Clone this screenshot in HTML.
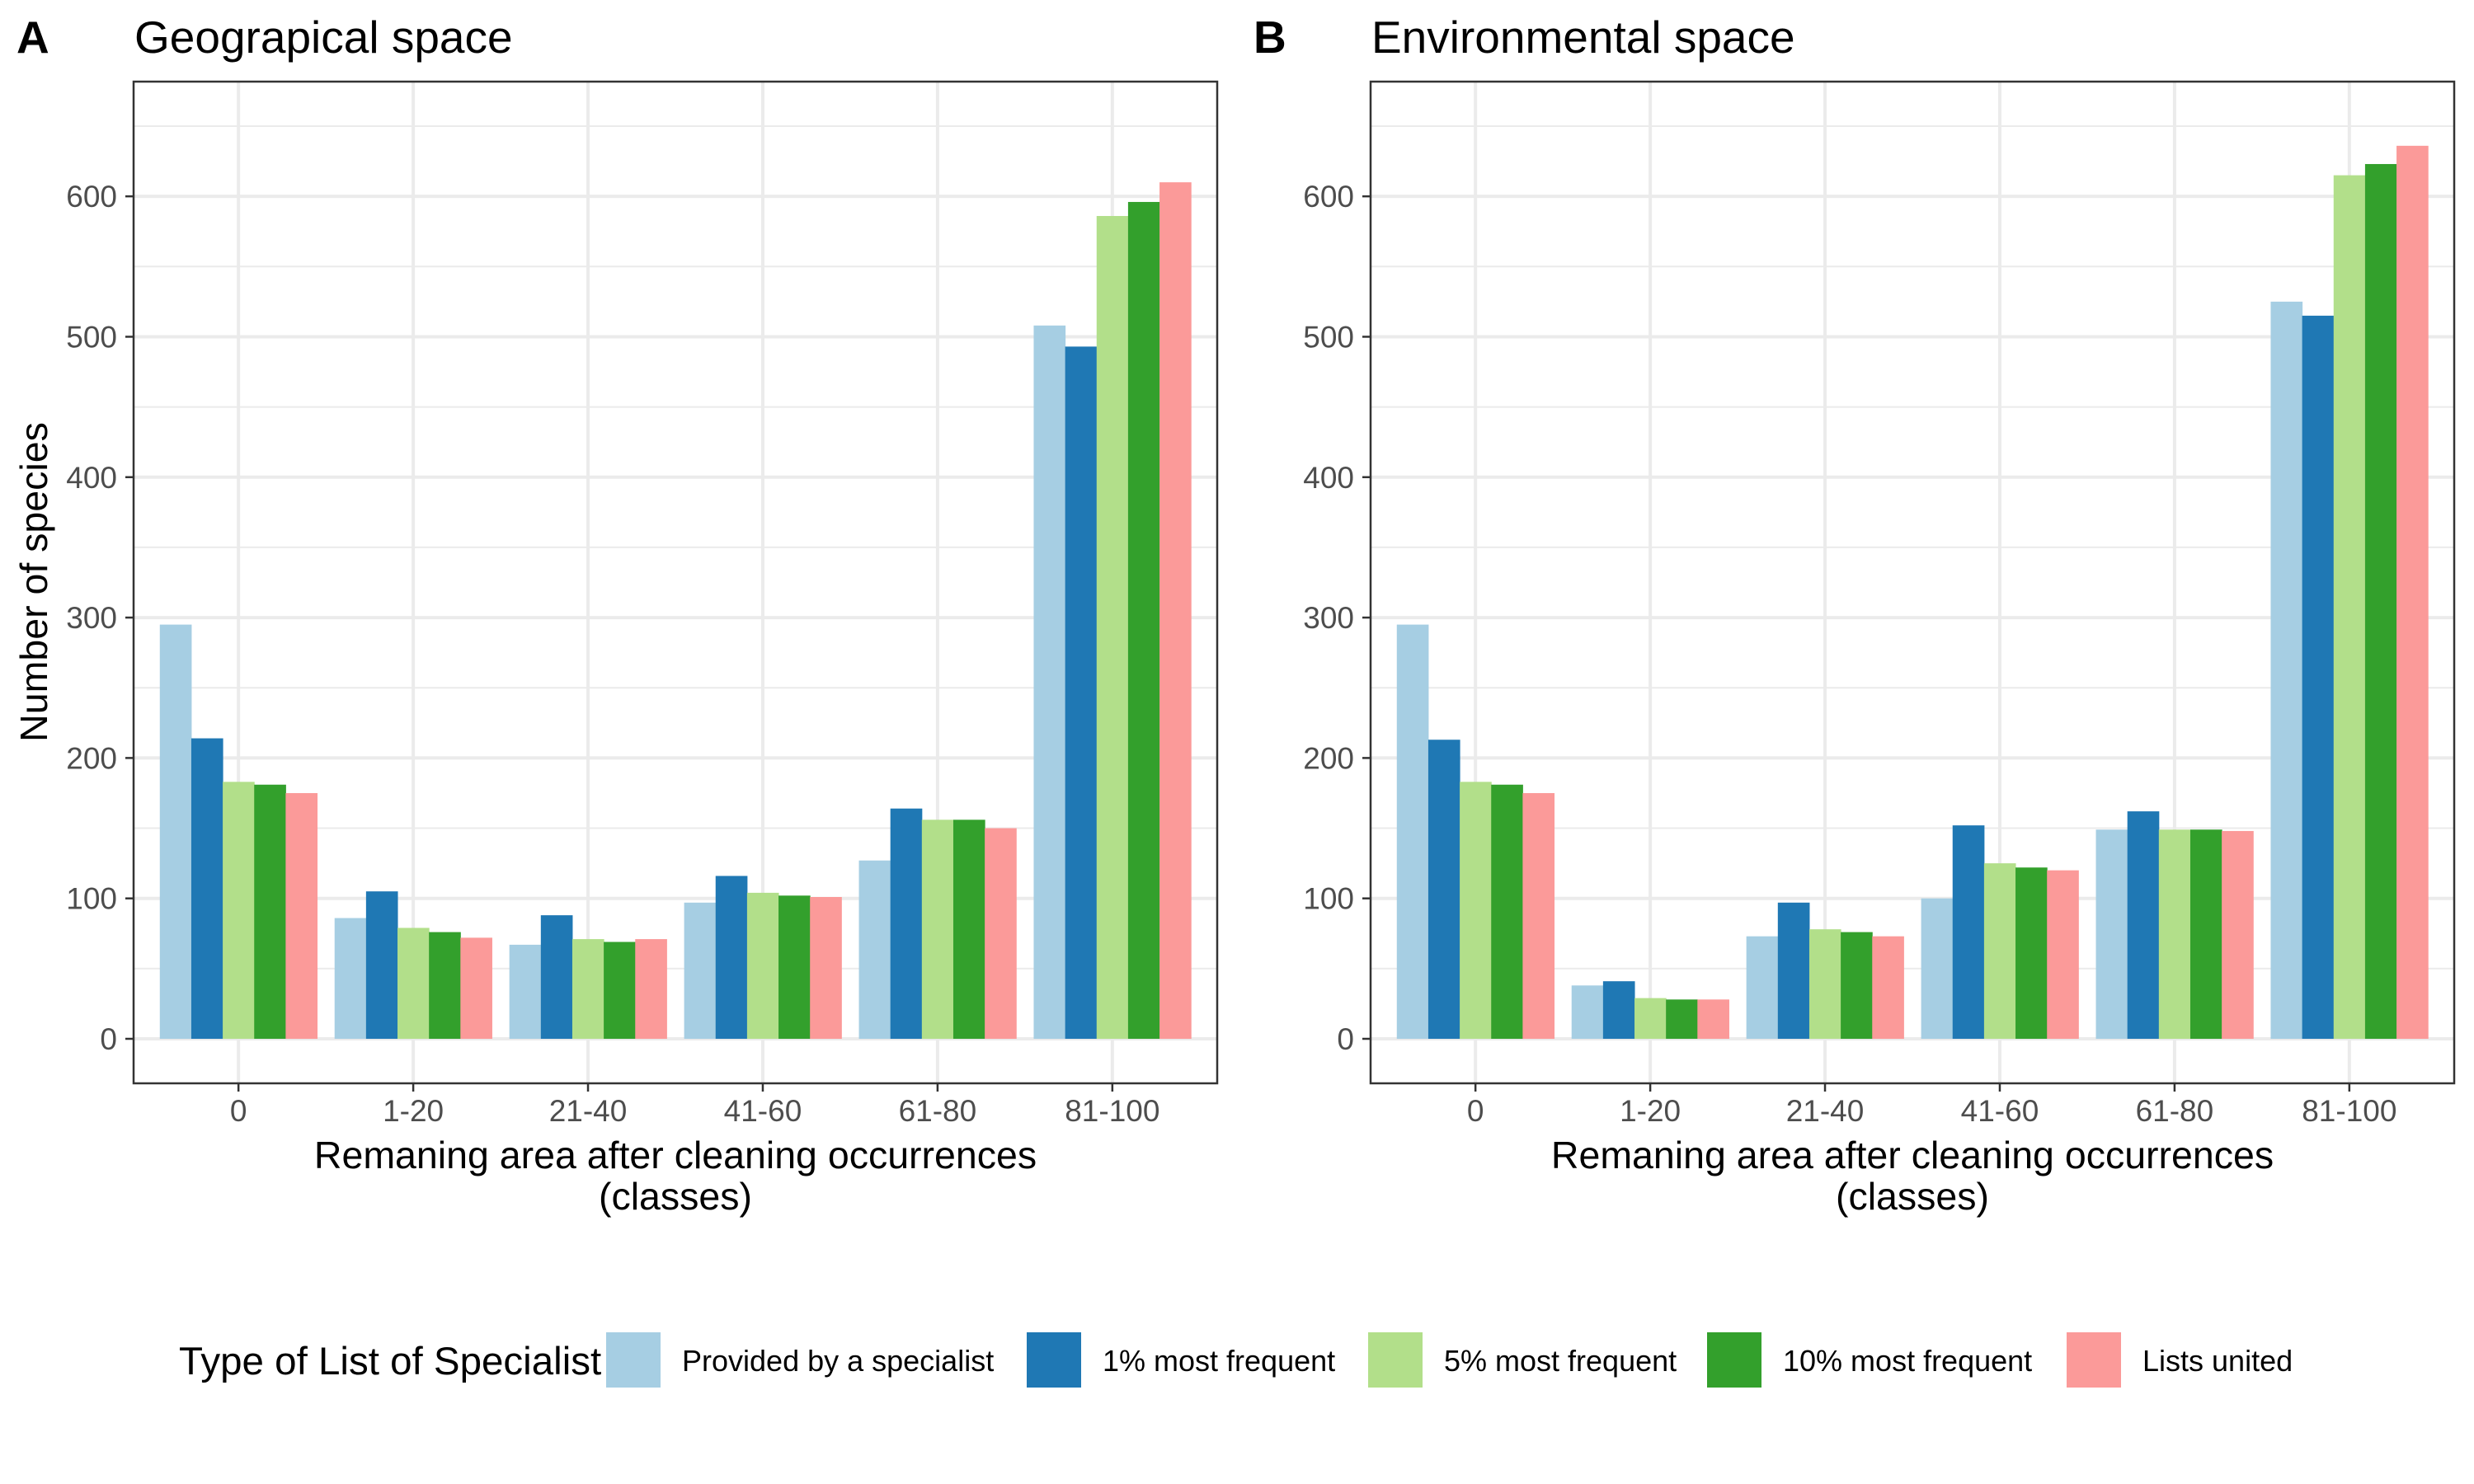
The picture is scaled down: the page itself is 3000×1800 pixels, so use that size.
<!DOCTYPE html>
<html><head><meta charset="utf-8"><style>
body{margin:0;background:#fff;}
svg{display:block;font-family:"Liberation Sans",Arial,sans-serif;}
</style></head><body>
<svg id="chart" width="3000" height="1800" viewBox="0 0 3000 1800" xmlns="http://www.w3.org/2000/svg"></svg>
<script>
const categories = ["0","1-20","21-40","41-60","61-80","81-100"];
const seriesNames = ["Provided by a specialist","1% most frequent","5% most frequent","10% most frequent","Lists united"];
const seriesColors = ["#A6CEE3","#1F78B4","#B2DF8A","#33A02C","#FB9A99"];
const yTicks = [0,100,200,300,400,500,600];
// Panel A values per series (across categories)
const geoSpecialist = [295,86,67,97,127,508];
const geo1pct = [214,105,88,116,164,493];
const geo5pct = [183,79,71,104,156,586];
const geo10pct = [181,76,69,102,156,596];
const geoUnited = [175,72,71,101,150,610];
// Panel B values
const envSpecialist = [295,38,73,100,149,525];
const env1pct = [213,41,97,152,162,515];
const env5pct = [183,29,78,125,149,615];
const env10pct = [181,28,76,122,149,623];
const envUnited = [175,28,73,120,148,636];

const NS="http://www.w3.org/2000/svg";
const svg=document.getElementById('chart');
function mk(tag,attrs,parent){const e=document.createElementNS(NS,tag);for(const k in attrs)e.setAttribute(k,attrs[k]);(parent||svg).appendChild(e);return e;}

const yMin=-31.7, yMax=681.7;
function drawPanel(offX,letter,title,series,pname){
  const g=mk('g',{});
  
  
  const L=offX+162,R=offX+1476,T=99,B=1314;
  const y=v=>B-(v-yMin)/(yMax-yMin)*(B-T);
  const step=(R-L)/(categories.length-1+1.2);
  const x=i=>L+step*(i+0.6);
  mk('rect',{x:L,y:T,width:R-L,height:B-T,fill:'#fff'},g);
  for(let v=50;v<=650;v+=100){const l=mk('line',{x1:L,x2:R,y1:y(v),y2:y(v),stroke:'#EBEBEB','stroke-width':2},g);
    }
  yTicks.forEach(v=>{const l=mk('line',{x1:L,x2:R,y1:y(v),y2:y(v),stroke:'#EBEBEB','stroke-width':4},g);
    });
  categories.forEach((c,i)=>{const l=mk('line',{x1:x(i),x2:x(i),y1:T,y2:B,stroke:'#EBEBEB','stroke-width':4},g);
    });
  const gw=step*0.9,bw=gw/series.length;
  series.forEach((s,si)=>{s.forEach((v,ci)=>{
    const r=mk('rect',{x:x(ci)-gw/2+si*bw,y:y(v),width:bw+0.5,height:y(0)-y(v),fill:seriesColors[si]},g);
    
    
  });});
  mk('rect',{x:L,y:T,width:R-L,height:B-T,fill:'none',stroke:'#333','stroke-width':2.5},g);
  yTicks.forEach(v=>{
    mk('line',{x1:L-10,x2:L,y1:y(v),y2:y(v),stroke:'#333','stroke-width':2.5},g);
    const t=mk('text',{x:L-20,y:y(v)+13,'text-anchor':'end','font-size':37,fill:'#4D4D4D'},g);
    t.textContent=v;
    
  });
  categories.forEach((c,i)=>{
    mk('line',{x1:x(i),x2:x(i),y1:B,y2:B+10,stroke:'#333','stroke-width':2.5},g);
    const t=mk('text',{x:x(i),y:1360,'text-anchor':'middle','font-size':37,fill:'#4D4D4D'},g);
    t.textContent=c;
    
  });
  const xt1=mk('text',{x:(L+R)/2,y:1417,'text-anchor':'middle','font-size':46.5,fill:'#000'},g);
  xt1.textContent='Remaning area after cleaning occurrences';
  
  const xt2=mk('text',{x:(L+R)/2,y:1467,'text-anchor':'middle','font-size':46.5,fill:'#000'},g);
  xt2.textContent='(classes)';
  
  const tt=mk('text',{x:L+1,y:64,'font-size':55,fill:'#000'},g);
  tt.textContent=title;
  
  const lt=mk('text',{x:offX+20,y:64,'font-size':55,'font-weight':'bold',fill:'#000'},g);
  lt.textContent=letter;
  
}
drawPanel(0,'A','Geograpical space',[geoSpecialist,geo1pct,geo5pct,geo10pct,geoUnited],'panel-geographical');
drawPanel(1500,'B','Environmental space',[envSpecialist,env1pct,env5pct,env10pct,envUnited],'panel-environmental');

const yt=mk('text',{x:0,y:0,'text-anchor':'middle','font-size':46.5,fill:'#000',transform:'translate(57,706) rotate(-90)'});
yt.textContent='Number of species';



const lg=mk('g',{});


const ltit=mk('text',{x:217,y:1667,'font-size':47.5,fill:'#000'},lg);
ltit.textContent='Type of List of Specialist';


const keyX=[735,1245,1659,2070,2506];
seriesNames.forEach((n,i)=>{
  const k=mk('rect',{x:keyX[i],y:1616,width:66,height:67,fill:seriesColors[i]},lg);
  
  
  const t=mk('text',{x:keyX[i]+92,y:1663,'font-size':36,fill:'#000'},lg);
  t.textContent=n;
  
  
});
</script>
</body></html>
